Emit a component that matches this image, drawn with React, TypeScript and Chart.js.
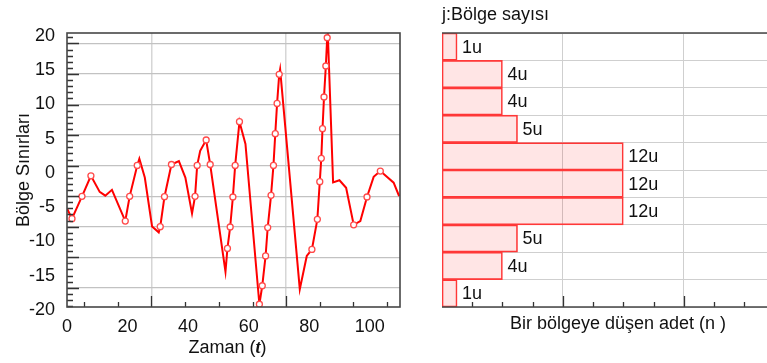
import React, { useEffect, useRef } from 'react';
import { Chart, registerables } from 'chart.js';

Chart.register(...registerables);

const FONT = '"Liberation Sans", Arial, Helvetica, sans-serif';
Chart.defaults.font.family = FONT;
Chart.defaults.color = '#111';

// Sampled wave: time, boundary value and whether the sample carries a circle marker
const TIME = [
  0, 1.65, 4.95, 7.9, 10.8, 12.65, 14.85, 19.25, 20.7, 23.2, 23.9, 25.7, 28.1, 30.3, 30.8, 32.2,
  34.5, 36.96, 39.1, 41.3, 42.3, 43.0, 44.0, 45.97, 47.3, 52.35, 53.0, 53.9, 54.8, 55.55, 56.97,
  58.95, 63.55, 64.5, 65.6, 66.3, 67.4, 68.2, 68.8, 69.4, 70.1, 70.4, 76.9, 79.2, 80.9, 82.7,
  83.5, 84.0, 84.4, 84.9, 85.5, 85.95, 86.15, 87.9, 90.0, 92.2, 94.7, 96.9, 99.1, 101.3, 103.5,
  107.9, 109.7,
];
const LEVEL = [
  -5.6, -7.1, -3.85, -0.85, -3.2, -3.75, -2.9, -7.45, -3.85, 0.67, 1.65, -1.1, -8.25, -9.1, -8.28,
  -3.9, 0.8, 1.3, -1.1, -6.35, -3.85, 0.67, 2.8, 4.38, 0.8, -14.85, -11.45, -8.32, -3.94, 0.67,
  7.05, 3.8, -19.6, -16.9, -12.55, -8.4, -3.7, 0.67, 5.3, 9.72, 13.96, 14.7, -17.4, -12.55, -11.6,
  -7.2, -1.7, 1.7, 6.03, 10.66, 15.18, 19.31, 20, -1.8, -1.5, -2.6, -8.0, -7.45, -3.94, -1.0,
  -0.15, -1.85, -3.8,
];
const MARKED = [
  0, 1, 1, 1, 0, 0, 0, 1, 1, 1, 0, 0, 0, 0, 1, 1, 1, 0, 0, 0, 1, 1, 0, 1, 1, 0, 1, 1, 1, 1, 1,
  0, 1, 1, 1, 1, 1, 1, 1, 1, 1, 0, 0, 0, 1, 1, 1, 1, 1, 1, 1, 1, 0, 0, 0, 0, 1, 0, 1, 0, 1, 0, 0,
];

// Left axis: labelled values, boundary grid lines and bottom tick marks
const Y_LABELS = [-20, -15, -10, -5, 0, 5, 10, 15, 20];
const Y_GRID = [18.48, 14.02, 9.56, 5.1, 0.64, -3.82, -8.28, -12.74, -17.2];
const X_LABELS = [0, 20, 40, 60, 80, 100];
const X_MARKS = [5.7, 16.8, 27.9, 39, 50.1, 61.3, 72.4, 83.5, 94.6, 105.7];
const X_GRID = [27.9, 72.4];

// Histogram: number of samples per band, top band first
const BANDS = ['16 – 20', '12 – 16', '8 – 12', '4 – 8', '0 – 4', '-4 – 0', '-8 – -4', '-12 – -8', '-16 – -12', '-20 – -16'];
const COUNTS = [1, 4, 4, 5, 12, 12, 12, 5, 4, 1];
const N_MARKS = [2, 4, 6, 8, 10, 12, 14, 16, 18, 20, 22];
const N_GRID = [8, 16];

// minor marks on the left axis: five steps between neighbouring grid lines
const Y_STEP = (Y_GRID[0] - Y_GRID[1]) / 5;
const Y_MINOR: number[] = [];
for (let v = Y_GRID[0] + Y_STEP; v > -20; v -= Y_STEP) Y_MINOR.push(+v.toFixed(3));
const isYMajor = (v: number) => Y_GRID.some((g) => Math.abs(g - v) < 0.05);

const byValue = (a: number, b: number) => a - b;

const waveDecor = {
  id: 'waveDecor',
  afterDraw(chart: any) {
    const { ctx, chartArea: a, scales } = chart;
    const x = scales.x;
    const y = scales.y;
    ctx.save();
    ctx.strokeStyle = '#333';
    ctx.lineWidth = 1.3;
    ctx.beginPath();
    Y_MINOR.forEach((v) => {
      const py = Math.round(y.getPixelForValue(v)) + 0.5;
      ctx.moveTo(a.left, py);
      ctx.lineTo(a.left + (isYMajor(v) ? 12 : 6), py);
    });
    X_MARKS.forEach((v) => {
      const px = Math.round(x.getPixelForValue(v)) + 0.5;
      ctx.moveTo(px, a.bottom);
      ctx.lineTo(px, a.bottom - (X_GRID.includes(v) ? 11 : 5));
    });
    ctx.stroke();

    ctx.strokeStyle = '#474747';
    ctx.lineWidth = 1.6;
    ctx.strokeRect(a.left, a.top, a.right - a.left, a.bottom - a.top);

    // axis title: "Zaman (t)" with a bold italic t
    const parts: [string, string][] = [
      ['Zaman (', `18px ${FONT}`],
      ['t', 'italic bold 18px "Liberation Serif", serif'],
      [')', `18px ${FONT}`],
    ];
    let total = 0;
    parts.forEach(([s, f]) => {
      ctx.font = f;
      total += ctx.measureText(s).width;
    });
    let cx = (a.left + a.right) / 2 - 6 - total / 2;
    ctx.fillStyle = '#111';
    ctx.textBaseline = 'alphabetic';
    ctx.textAlign = 'left';
    parts.forEach(([s, f]) => {
      ctx.font = f;
      ctx.fillText(s, cx, 353);
      cx += ctx.measureText(s).width;
    });
    ctx.restore();
  },
};

const histDecor = {
  id: 'histDecor',
  afterDatasetsDraw(chart: any) {
    const { ctx } = chart;
    const meta = chart.getDatasetMeta(0);
    ctx.save();
    ctx.font = `18px ${FONT}`;
    ctx.fillStyle = '#111';
    ctx.textAlign = 'left';
    ctx.textBaseline = 'middle';
    meta.data.forEach((bar: any, i: number) => {
      ctx.fillText(`${COUNTS[i]}u`, bar.x + 5, bar.y + 1);
    });
    ctx.restore();
  },
  afterDraw(chart: any) {
    const { ctx, chartArea: a, scales } = chart;
    const x = scales.x;
    ctx.save();
    ctx.strokeStyle = '#333';
    ctx.lineWidth = 1.3;
    ctx.beginPath();
    N_MARKS.forEach((v) => {
      const px = Math.round(x.getPixelForValue(v)) + 0.5;
      ctx.moveTo(px, a.bottom);
      ctx.lineTo(px, a.bottom - (N_GRID.includes(v) ? 11 : 5));
    });
    ctx.stroke();
    ctx.strokeStyle = '#474747';
    ctx.lineWidth = 1.6;
    ctx.beginPath();
    ctx.moveTo(a.left, a.top);
    ctx.lineTo(a.right, a.top);
    ctx.moveTo(a.left, a.bottom);
    ctx.lineTo(a.right, a.bottom);
    ctx.stroke();
    ctx.restore();
  },
};

export default function App() {
  const waveRef = useRef<HTMLCanvasElement>(null);
  const histRef = useRef<HTMLCanvasElement>(null);

  useEffect(() => {
    const wave = new Chart(waveRef.current!, {
      type: 'line',
      data: {
        datasets: [
          {
            data: TIME.map((t, i) => ({ x: t, y: LEVEL[i] })),
            borderColor: '#ff0000',
            borderWidth: 2,
            tension: 0,
            pointRadius: MARKED.map((m) => (m ? 3 : 0)),
            pointBackgroundColor: '#ffffff',
            pointBorderColor: '#ff4a4a',
            pointBorderWidth: 1.3,
          },
        ],
      },
      options: {
        responsive: false,
        animation: false,
        events: [],
        layout: { padding: { top: 33, right: 20, left: 0, bottom: 0 } },
        plugins: { legend: { display: false }, tooltip: { enabled: false } },
        scales: {
          x: {
            type: 'linear',
            min: 0,
            max: 110,
            afterBuildTicks: (s: any) => {
              s.ticks = [...X_LABELS, ...X_GRID].sort(byValue).map((value) => ({ value }));
            },
            afterFit: (s: any) => {
              s.height = 56;
            },
            ticks: {
              autoSkip: false,
              maxRotation: 0,
              padding: 9,
              color: '#111',
              font: { size: 18 },
              callback: (v: any) => (X_LABELS.includes(v) ? String(v) : ''),
            },
            grid: {
              drawTicks: false,
              lineWidth: 1.5,
              color: (c: any) => (X_GRID.includes(c.tick?.value) ? '#d6d6d6' : 'rgba(0,0,0,0)'),
            },
            border: { display: false },
          },
          y: {
            type: 'linear',
            min: -20,
            max: 20,
            afterBuildTicks: (s: any) => {
              s.ticks = [...Y_LABELS, ...Y_GRID].sort(byValue).map((value) => ({ value }));
            },
            afterFit: (s: any) => {
              s.width = 67;
            },
            ticks: {
              autoSkip: false,
              padding: 12,
              labelOffset: 3,
              color: '#111',
              font: { size: 18 },
              callback: (v: any) => (Y_LABELS.includes(v) ? String(v) : ''),
            },
            grid: {
              drawTicks: false,
              lineWidth: 1.2,
              color: (c: any) => (Y_GRID.includes(c.tick?.value) ? '#c2c2c2' : 'rgba(0,0,0,0)'),
            },
            border: { display: false },
            title: {
              display: true,
              text: 'Bölge Sınırları',
              color: '#111',
              font: { size: 18 },
              padding: { top: 13, bottom: 0 },
            },
          },
        },
      },
      plugins: [waveDecor],
    });

    const hist = new Chart(histRef.current!, {
      type: 'bar',
      data: {
        labels: BANDS,
        datasets: [
          {
            data: COUNTS,
            backgroundColor: 'rgba(255, 0, 0, 0.1)',
            borderColor: '#ff3a3a',
            borderWidth: 1,
            borderSkipped: false,
            barPercentage: 1,
            categoryPercentage: 1,
          },
        ],
      },
      options: {
        indexAxis: 'y',
        responsive: false,
        animation: false,
        events: [],
        layout: { padding: { left: 22, right: 0, top: 0, bottom: 0 } },
        plugins: {
          legend: { display: false },
          tooltip: { enabled: false },
          title: {
            display: true,
            text: 'j:Bölge sayısı',
            align: 'start',
            color: '#111',
            font: { size: 18, weight: 'normal' },
            padding: { top: 4, bottom: 7.4 },
          },
        },
        scales: {
          x: {
            type: 'linear',
            min: 0,
            max: 23.3,
            afterBuildTicks: (s: any) => {
              s.ticks = N_GRID.map((value) => ({ value }));
            },
            afterFit: (s: any) => {
              s.height = 56;
            },
            ticks: { display: false },
            grid: { drawTicks: false, color: '#cfcfcf', lineWidth: 1 },
            border: { display: false },
            title: {
              display: true,
              text: 'Bir bölgeye düşen adet (n )',
              color: '#111',
              font: { size: 18 },
              padding: { top: 0, bottom: 28 },
            },
          },
          y: {
            afterFit: (s: any) => {
              s.width = 0;
            },
            ticks: { display: false },
            grid: { drawTicks: false, color: '#cfcfcf', lineWidth: 1 },
            border: { display: false },
          },
        },
      },
      plugins: [histDecor],
    });

    return () => {
      wave.destroy();
      hist.destroy();
    };
  }, []);

  return (
    <div
      style={{
        position: 'fixed',
        left: 0,
        top: 0,
        width: 767,
        height: 363,
        overflow: 'hidden',
        background: '#ffffff',
      }}
    >
      <canvas ref={waveRef} width={420} height={363} style={{ position: 'absolute', left: 0, top: 0 }} />
      <canvas ref={histRef} width={374} height={363} style={{ position: 'absolute', left: 420, top: 0 }} />
    </div>
  );
}
